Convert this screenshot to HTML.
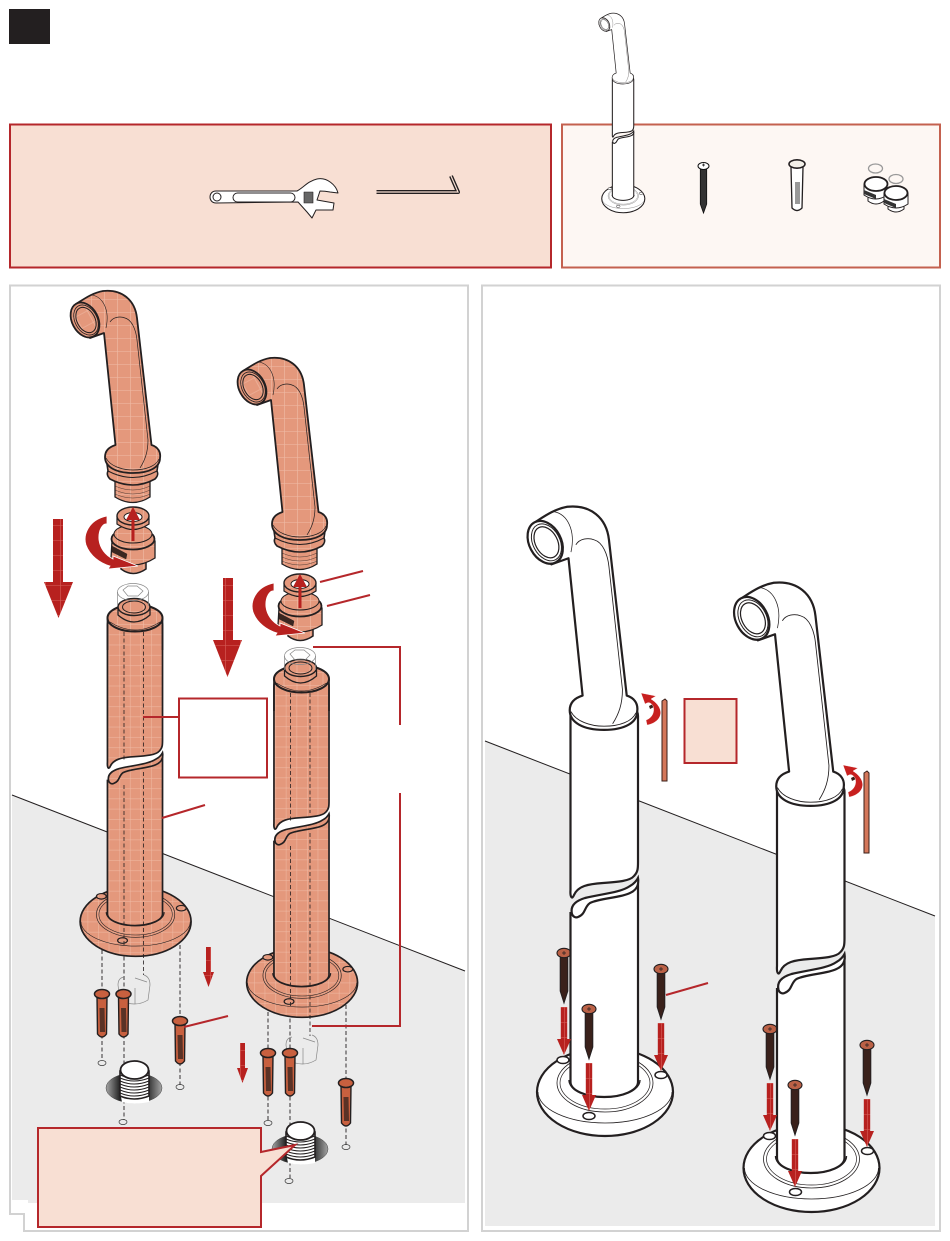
<!DOCTYPE html>
<html><head><meta charset="utf-8">
<style>html,body{margin:0;padding:0;background:#fff}svg{display:block}</style></head>
<body>
<svg xmlns="http://www.w3.org/2000/svg" width="950" height="1241" viewBox="0 0 950 1241">
<defs>
<pattern id="g" width="13" height="13" patternUnits="userSpaceOnUse">
<rect width="13" height="13" fill="#e4987c"/><path d="M0,.5H13M.5,0V13" stroke="#f0bca7" stroke-width=".6"/>
</pattern>
<pattern id="r" width="15" height="15" patternUnits="userSpaceOnUse">
<rect width="15" height="15" fill="#b7211f"/><path d="M0,.5H15M.5,0V15" stroke="#d8605a" stroke-width=".6"/>
</pattern>
<linearGradient id="disc" x1="0" x2="1" y1="0" y2="0"><stop offset="0" stop-color="#a5a5a5"/><stop offset=".25" stop-color="#222"/><stop offset=".72" stop-color="#222"/><stop offset="1" stop-color="#a5a5a5"/></linearGradient>

<!-- spout, coordinates of faucet A -->
<g id="spout" stroke="#231f20" stroke-linejoin="round">
<path d="M76,304C84,299 92,293 103,291C122,289 135,300 137,318L151.5,445C158,447 161,452 160,458C160,467 150,473 133,473C116,473 105,467 105,457C105,451 109,447 115.5,445L104,333L90,338Z"/>
<path d="M110,322C113,317 120,316 125,318C132,320 136,330 137,340L148,440C148,452 145,460 140,468" fill="none" stroke-width=".7"/>
<path d="M92,295C103,297 110,310 106,328" fill="none" stroke-width=".6"/>
<path d="M106,458C110,466 122,470 133,470C146,470 156,466 159,459" fill="none" stroke-width=".7"/>
<ellipse cx="85" cy="320" rx="13" ry="18.500" transform="rotate(-28 85 320)"/>
<ellipse cx="86" cy="320" rx="11" ry="16" transform="rotate(-28 86 320)" stroke-width=".8"/>
<ellipse cx="86" cy="320" rx="9" ry="13.500" transform="rotate(-28 86 320)" stroke-width="1"/>
</g>

<!-- thread + ring beneath orange spout -->
<g id="spoutBase" stroke="#231f20" fill="url(#g)">
<path d="M115,478L115,497Q133,508 150,497L150,478Z" stroke-width="1.300"/>
<path d="M115,486Q133,494 150,486M115,490Q133,498 150,490M115,494Q133,502 150,494" fill="none" stroke-width=".4"/>
<path d="M107,464L108,471Q106,475 110,479Q133,491 155,479Q159,475 157,471L158,464Z" stroke-width="1.600"/>
<path d="M108,471Q133,484 157,471" fill="none" stroke-width="1"/>
</g>

<!-- nut -->
<g id="nut" stroke="#231f20">
<path d="M120,562L121,569Q133,578 146,569L146,562Z" fill="url(#g)" stroke-width="1.500"/>
<path d="M112,541L111,558Q133,572 155,558L155,541Z" fill="url(#g)" stroke-width="1.300"/>
<ellipse cx="133" cy="539" rx="21.500" ry="10.500" fill="url(#g)" stroke-width="1.800"/>
<ellipse cx="133" cy="534" rx="19" ry="9" fill="url(#g)" stroke-width="1"/>
<path d="M112,546L127,554L126,559L112,552Z" fill="#3a2620" stroke-width=".4"/>
<path d="M117,517L117,524Q133,535 149,524L149,517Z" fill="url(#g)" stroke-width="1.200"/>
<ellipse cx="133" cy="516" rx="16" ry="9" fill="url(#g)" stroke-width="1.400"/>
<ellipse cx="133" cy="517" rx="9" ry="4.500" fill="#fff" stroke-width="1"/>
<path d="M131.500,520V541h3V520ZM126,520L133,507L140,520Z" fill="#b7211f" stroke="none"/>
<path d="M107,516C88,520 83,535 86,545C90,556 100,563 110,566L108,569L138,566L113,556L113,559C105,555 100,548 99,540C98,530 103,523 107,524Z" fill="#b7211f" stroke="#fff" stroke-width=".8"/>
</g>

<!-- hex ghost -->
<g id="hex" fill="none" stroke="#888" stroke-width=".7">
<ellipse cx="133" cy="592" rx="15.500" ry="8.500"/>
<path d="M117.500,592V606M148.500,592V606M123,590L128,586L137,586L143,591L138,596L128,596Z"/>
</g>
<g id="ghost" fill="none" stroke="#888" stroke-width=".7">
<path d="M124,977Q118,978 118,985L120,1000Q135,1008 148,1000L150,985Q150,977 144,975M135,978L147,982M135,1004V988"/>
</g>

<!-- post, coordinates of faucet C -->
<g id="post" stroke="#231f20">
<ellipse cx="605" cy="1092" rx="68" ry="44"/>
<path d="M538,1092A67,31 0 0 0 672,1092" fill="none" stroke-width=".8"/>
<ellipse cx="605" cy="1083" rx="48" ry="29" fill="none" stroke-width=".8"/>
<ellipse cx="605" cy="1083" rx="45" ry="26" fill="none" stroke-width=".7"/>
<path d="M569,1080A35,17 0 0 0 640,1080" fill="none" stroke-width="1.400"/>
<ellipse cx="563" cy="1060" rx="6" ry="3.500" stroke-width="1.500"/>
<ellipse cx="661" cy="1075" rx="6" ry="3.500" stroke-width="1.500"/>
<ellipse cx="589" cy="1116" rx="6" ry="3.500" stroke-width="1.500"/>
<path d="M570.500,716C570.500,704 590,697 604,697C618,697 638,704 638,716V862C638,868 638,872 634,876C630,881 618,882 603,883C588,884 578,886 574,895C572,900 570,897 570.500,890Z"/>
<path d="M570.500,912V1082A33.750,15 0 0 0 638,1082V882L630,893C620,898 600,898 590,903L578,917Z" stroke="none"/>
<path d="M570.500,912V1082A33.750,15 0 0 0 638,1082V882" fill="none"/>
<path d="M572,914C570,906 575,901 585,898C600,894 620,893 630,886C634,884 637,880 638,878C639,884 637,890 630,893C620,898 600,898 590,903C584,907 586,914 578,917C576,918 573,917 572,914Z"/>
</g>

<g id="faucetW" fill="#fff">
<use href="#post"/>
<use href="#spout" transform="matrix(1.226,0,0,1.226,441,150)" stroke-width="1.800"/>
</g>

<!-- orange assembly: post + cap + dashes -->
<g id="faucetO">
<use href="#post" transform="matrix(.8157,0,0,.789,-357.900,60)" fill="url(#g)" stroke-width="2.100"/>
<g stroke="#231f20">
<path d="M107.500,618V650M162.500,618V650" fill="none" stroke-width="1.700"/>
<ellipse cx="135" cy="618" rx="27.500" ry="13.500" fill="url(#g)" stroke-width="2"/>
<path d="M110,622Q135,638 160,622" fill="none" stroke-width=".7"/>
<path d="M118,607V615Q134,629 150,615V607Z" fill="url(#g)" stroke-width="1.300"/>
<ellipse cx="134" cy="607" rx="16" ry="8.500" fill="url(#g)" stroke-width="1.500"/>
<ellipse cx="134" cy="607" rx="11.500" ry="6" fill="url(#g)" stroke-width="1"/>
</g>
<path d="M124,632V760M143.500,632V752M124,785V945M143.500,772V975" stroke="#231f20" stroke-width=".8" stroke-dasharray="4 2.500" fill="none"/>
</g>

<!-- anchor -->
<g id="anchor" stroke="#231f20">
<path d="M-5,2L-4.500,40Q0,46 4.500,40L5,2Z" fill="#c8603f" stroke-width="1.400"/>
<path d="M-2.500,14H2.500L3,38H-2Z" fill="#5a3226" stroke="none"/>
<ellipse cx="0" cy="0" rx="7.500" ry="4.500" fill="#c8603f" stroke-width="1.500"/>
</g>

<!-- screw -->
<g id="screw" stroke="#231f20">
<path d="M-3.800,3V38L0,50L3.800,38V3Z" fill="#3a211b" stroke-width="1"/>
<ellipse cx="0" cy="0" rx="7" ry="4.700" fill="#bb6146" stroke-width="1.100"/>
<path d="M-2,0H2M0,-2V2" stroke-width=".7"/>
</g>

<!-- small red down arrow for screws -->
<g id="darr" fill="url(#r)">
<path d="M-3.200,0H3.200V32H7L0,48L-7,32H-3.200Z"/>
</g>

<!-- threaded stub -->
<g id="stub">
<ellipse cx="134" cy="1088" rx="28" ry="15" fill="url(#disc)" stroke="#444" stroke-width=".5"/>
<path d="M120,1092Q134,1098 149,1092V1102Q134,1105 122,1102Z" fill="#fff"/>
<path d="M120,1071V1096Q134,1102 149,1096V1071Z" fill="#fff" stroke="#231f20" stroke-width="1.600"/>
<path d="M120,1075Q134,1081 149,1075M120,1078Q134,1084 149,1078M120,1081Q134,1087 149,1081M120,1084Q134,1090 149,1084M120,1087Q134,1093 149,1087M120,1090Q134,1096 149,1090M120,1093Q134,1099 149,1093" fill="none" stroke="#231f20" stroke-width="1"/>
<ellipse cx="134.500" cy="1070" rx="14" ry="9" fill="#fff" stroke="#231f20" stroke-width="1.800"/>
</g>
<ellipse id="hole" rx="4" ry="2.500" fill="none" stroke="#333" stroke-width=".7"/>
<!-- hex key + turn arrow -->
<g id="key">
<path d="M662,701L665,699L667,701V781H662Z" fill="#d4775a" stroke="#3a1f1a" stroke-width="1"/>
<path d="M649,706L655,703L656,706L650,709Z" fill="#3a211b"/>
<path d="M641,693L656,696L651,699C662,706 664,716 655,722C652,724 648,725 647,725L646,720C652,718 655,712 653,706C651,703 649,702 647,703L645,704Z" fill="#c8201f" stroke="#fff" stroke-width=".4"/>
</g>
</defs>

<rect width="950" height="1241" fill="#fff"/>
<rect x="9" y="9" width="41" height="35" fill="#231f20"/>

<!-- top panels -->
<rect x="10" y="124.500" width="541" height="143" fill="#f8dfd3" stroke="#b5272b" stroke-width="2"/>
<rect x="562" y="124.500" width="378" height="143" fill="#fdf7f3" stroke="#c4614f" stroke-width="2"/>

<!-- wrench -->
<g stroke="#231f20" stroke-width="1" fill="#fff" stroke-linejoin="round">
<path d="M216,191L297,191C303,188 308,181 317,179C327,177 336,185 338,193L330,192C325,191 320,191 320,191L317,200L334,203L333,210L316,210L312,218L307,212L298,202L216,203C208,203 208,191 216,191Z"/>
<circle cx="217" cy="197" r="4" fill="none"/>
<rect x="233" y="193" width="62" height="9" rx="4.500" fill="none"/>
<rect x="304" y="192" width="9" height="11" fill="#666" stroke-width=".6"/>
</g>
<!-- hex key top -->
<path d="M376.500,192L458,192L451,176" fill="none" stroke="#231f20" stroke-width="4" stroke-linejoin="round"/>
<path d="M376.500,192L458,192L451,176" fill="none" stroke="#f8dfd3" stroke-width="1.200"/>

<!-- mini parts -->
<use href="#faucetW" transform="matrix(.317,0,0,.317,431.500,-147.400)" stroke-width="3.300"/>
<g transform="translate(703.500,166)">
<path d="M-3.200,3V38L0,47L3.200,38V3Z" fill="#333" stroke="#111" stroke-width=".8"/>
<ellipse rx="5.500" ry="3.500" fill="#fff" stroke="#111" stroke-width="1"/>
<path d="M-1.500,-1H1.500M0,-2.500V.5" stroke="#111" stroke-width=".7"/>
</g>
<g transform="translate(797,164)" stroke="#231f20">
<path d="M-6,3L-5,44Q0,49 5,44L6,3Z" fill="#fff" stroke-width="1.300"/>
<path d="M-2,18H3V40H-2Z" fill="#999" stroke="none"/>
<ellipse rx="8" ry="4.200" fill="#f2efe8" stroke-width="1.600"/>
</g>
<g stroke="#231f20">
<ellipse cx="875.500" cy="168.500" rx="7" ry="4.500" fill="none" stroke="#999" stroke-width="1.300"/>
<path d="M868,195V201Q876,207 884,201V195Z" fill="#fff" stroke-width="1"/>
<path d="M864,184V195Q876,203 887,195V184Z" fill="#fff" stroke-width="1"/>
<path d="M864,190L876,195V199L864,194Z" fill="#333" stroke="none"/>
<ellipse cx="876" cy="184" rx="11.500" ry="7" fill="#fff" stroke-width="1.800"/>
<ellipse cx="896" cy="179" rx="7" ry="4.500" fill="none" stroke="#999" stroke-width="1.300"/>
<path d="M888,204V209Q896,215 904,209V204Z" fill="#fff" stroke-width="1"/>
<path d="M884,193V204Q896,212 908,204V193Z" fill="#fff" stroke-width="1"/>
<path d="M884,199L896,204V208L884,203Z" fill="#333" stroke="none"/>
<ellipse cx="896" cy="193" rx="11.500" ry="7" fill="#fff" stroke-width="1.800"/>
</g>

<!-- LEFT PANEL -->
<path d="M10,285.500H468V1231H24V1214H10Z" fill="#fff" stroke="#d2d2d2" stroke-width="2"/>
<path d="M12,795L465,971V1203H28V1200H12Z" fill="#ebebeb"/>
<path d="M12,795L465,971" stroke="#231f20" stroke-width="1" fill="none"/>

<!-- dashes beneath flanges -->
<g stroke="#231f20" stroke-width=".9" stroke-dasharray="4 2.500" fill="none">
<path d="M102,950V1060M124,950V1120M180,945V1085"/>
<path d="M268,1012V1120M290,1012V1178M346,1005V1145"/>
</g>

<!-- A -->
<use href="#faucetO"/>
<use href="#ghost"/>
<use href="#hex"/>
<use href="#spoutBase"/>
<use href="#spout" fill="url(#g)" stroke-width="1.800"/>
<use href="#nut"/>
<!-- B -->
<use href="#faucetO" transform="translate(166.500,61)"/>
<use href="#ghost" transform="translate(168,60)"/>
<use href="#hex" transform="translate(167,64)"/>
<use href="#spoutBase" transform="translate(167,67)"/>
<use href="#spout" transform="translate(167,67)" fill="url(#g)" stroke-width="1.800"/>
<use href="#nut" transform="translate(167,67)"/>

<!-- big arrows -->
<path d="M53,519H63V582H73L58.500,618L44,582H53Z" fill="url(#r)"/>
<path d="M223,578H233V640H242L227.500,677L213,640H223Z" fill="url(#r)"/>
<!-- small arrows left -->
<path d="M206,947H211V972H214L208.500,987L203,972H206Z" fill="url(#r)"/>
<path d="M240,1043H245V1068H248L242.500,1083L237,1068H240Z" fill="url(#r)"/>

<!-- anchors and holes -->
<use href="#anchor" transform="translate(102,994)"/>
<use href="#anchor" transform="translate(123.500,994)"/>
<use href="#anchor" transform="translate(180,1021)"/>
<use href="#anchor" transform="translate(268,1053)"/>
<use href="#anchor" transform="translate(290,1053)"/>
<use href="#anchor" transform="translate(346,1083)"/>
<use href="#hole" x="102" y="1063"/><use href="#hole" x="180" y="1087"/><use href="#hole" x="123" y="1122"/>
<use href="#hole" x="268" y="1123"/><use href="#hole" x="346" y="1147"/><use href="#hole" x="289" y="1181"/>

<use href="#stub"/>
<use href="#stub" transform="translate(166,61)"/>

<!-- red leaders -->
<g fill="none" stroke="#b5272b" stroke-width="2">
<path d="M143,717H179"/>
<path d="M162,818L205,805"/>
<path d="M184,1027L228,1016"/>
<path d="M320,582L363,571"/>
<path d="M327,606L370,595"/>
<path d="M313,647H400V725"/>
<path d="M400,793V1026H312"/>
</g>
<rect x="179" y="698.500" width="88" height="79" fill="#fff" stroke="#b5272b" stroke-width="2"/>
<path d="M38,1128H261V1152L295,1145L261,1176V1227H38Z" fill="#f8dfd3" stroke="#b5272b" stroke-width="2"/>

<!-- RIGHT PANEL -->
<rect x="482" y="285.500" width="458" height="945.500" fill="#fff" stroke="#d2d2d2" stroke-width="2"/>
<path d="M485,741L935,916V1226H485Z" fill="#ebebeb"/>
<path d="M485,741L935,916" stroke="#231f20" stroke-width="1" fill="none"/>

<use href="#screw" transform="translate(564,953)"/>
<use href="#screw" transform="translate(770,1029)"/>
<use href="#faucetW" stroke-width="2.200"/>
<use href="#faucetW" transform="translate(206.500,76)" stroke-width="2.200"/>

<use href="#screw" transform="translate(589,1009)"/>
<use href="#screw" transform="translate(661,969)"/>
<use href="#screw" transform="translate(795,1085)"/>
<use href="#screw" transform="translate(867,1045)"/>

<use href="#darr" transform="translate(564,1007)"/>
<use href="#darr" transform="translate(589,1063)"/>
<use href="#darr" transform="translate(661,1023)"/>
<use href="#darr" transform="translate(770,1083)"/>
<use href="#darr" transform="translate(795,1139)"/>
<use href="#darr" transform="translate(867,1099)"/>

<use href="#key"/>
<use href="#key" transform="translate(202,72)"/>
<rect x="684.500" y="699" width="52" height="64" fill="#f8dfd3" stroke="#b5272b" stroke-width="2"/>
<path d="M666,995L708,983" stroke="#b5272b" stroke-width="2" fill="none"/>
</svg>
</body></html>
